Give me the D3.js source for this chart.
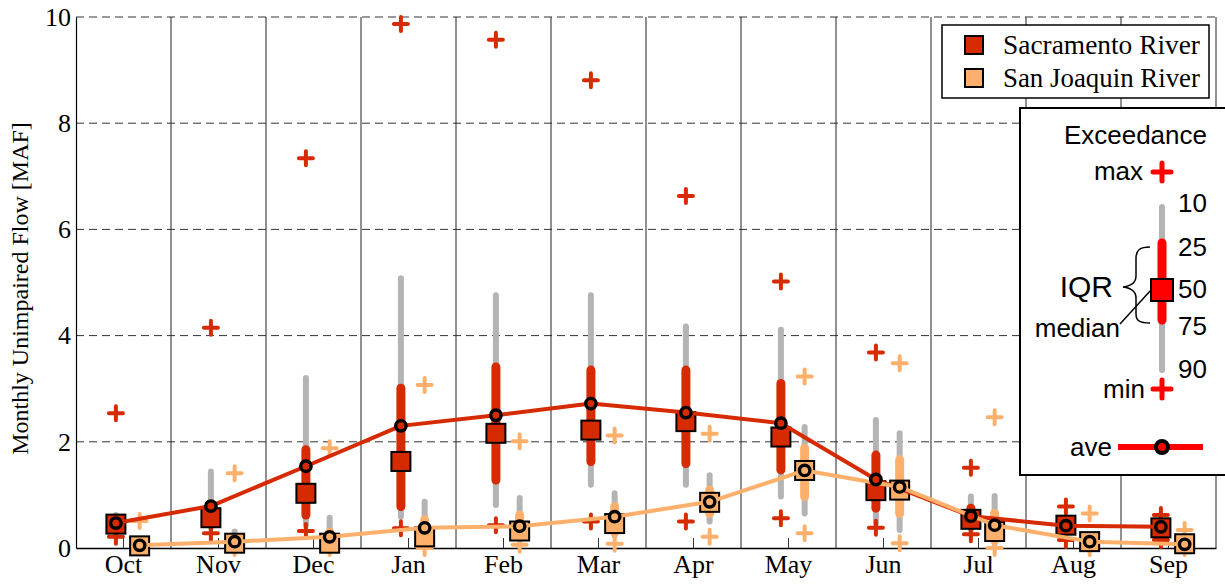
<!DOCTYPE html>
<html>
<head>
<meta charset="utf-8">
<script src="https://cdn.jsdelivr.net/npm/d3@7"></script>
<style>
  html, body { margin: 0; padding: 0; background: #fff; }
  svg { display: block; }
</style>
</head>
<body>
<svg id="chart" width="1225" height="584"></svg>
<script>
// ---------------- DATA ----------------
const months = ["Oct","Nov","Dec","Jan","Feb","Mar","Apr","May","Jun","Jul","Aug","Sep"];
const seriesNames = ["Sacramento River","San Joaquin River"];
const yTicks = [0, 2, 4, 6, 8, 10];

// Sacramento River (MAF), exceedance percentiles
const sacMax  = [2.54, 4.15, 7.34, 9.87, 9.57, 8.81, 6.63, 5.02, 3.68, 1.51, 0.78, 0.62];
const sacP10  = [0.62, 1.44, 3.20, 5.08, 4.76, 4.76, 4.17, 4.11, 2.41, 0.97, 0.55, 0.50];
const sacP25  = [0.55, 0.72, 1.85, 3.01, 3.41, 3.35, 3.35, 3.10, 1.75, 0.75, 0.50, 0.45];
const sacMed  = [0.45, 0.57, 1.03, 1.63, 2.16, 2.22, 2.38, 2.09, 1.08, 0.54, 0.43, 0.38];
const sacP75  = [0.35, 0.45, 0.62, 0.78, 1.28, 1.63, 1.59, 1.47, 0.75, 0.42, 0.35, 0.30];
const sacP90  = [0.28, 0.38, 0.43, 0.59, 0.81, 1.19, 1.19, 0.97, 0.46, 0.34, 0.25, 0.22];
const sacMin  = [0.21, 0.28, 0.32, 0.37, 0.43, 0.50, 0.50, 0.56, 0.38, 0.26, 0.15, 0.15];
const sacAve  = [0.47, 0.79, 1.54, 2.30, 2.50, 2.72, 2.55, 2.35, 1.29, 0.60, 0.42, 0.40];

// San Joaquin River (MAF)
const sjMax   = [0.51, 1.41, 1.88, 3.07, 2.01, 2.12, 2.15, 3.23, 3.48, 2.46, 0.65, 0.34];
const sjP10   = [0.10, 0.31, 0.57, 0.87, 0.94, 1.03, 1.37, 2.28, 2.16, 0.98, 0.20, 0.12];
const sjP25   = [0.07, 0.20, 0.30, 0.53, 0.62, 0.78, 1.09, 1.88, 1.66, 0.65, 0.15, 0.10];
const sjMed   = [0.04, 0.09, 0.09, 0.21, 0.32, 0.46, 0.86, 1.46, 1.09, 0.31, 0.12, 0.08];
const sjP75   = [0.03, 0.05, 0.05, 0.12, 0.20, 0.30, 0.65, 0.97, 0.65, 0.15, 0.06, 0.04];
const sjP90   = [0.02, 0.03, 0.03, 0.08, 0.15, 0.24, 0.50, 0.65, 0.34, 0.08, 0.04, 0.03];
const sjMin   = [0.01, 0.00, 0.00, 0.00, 0.06, 0.08, 0.21, 0.28, 0.09, 0.00, 0.00, 0.00];
const sjAve   = [0.05, 0.12, 0.21, 0.38, 0.41, 0.59, 0.87, 1.46, 1.15, 0.43, 0.12, 0.07];

// ---------------- BUILD ----------------
const series = [
  {name: seriesNames[0], color: "#d62a00", max: sacMax, p10: sacP10, p25: sacP25, med: sacMed, p75: sacP75, p90: sacP90, min: sacMin, ave: sacAve},
  {name: seriesNames[1], color: "#fdb06b", max: sjMax, p10: sjP10, p25: sjP25, med: sjMed, p75: sjP75, p90: sjP90, min: sjMin, ave: sjAve}
];
const GRAY = "#b4b4b4";
const SERIF = "'Liberation Serif','Times New Roman',serif";
const SANS = "'Liberation Sans',Arial,Helvetica,sans-serif";

const svg = d3.select("#chart");
const L = 76, R = 1216, T = 17, B = 548;

const x = d3.scaleBand().domain(months).range([L, R]).padding(0);
const bw = x.bandwidth();
const xs = d3.scalePoint().domain(seriesNames).range([0.42 * bw, 0.67 * bw]);
const y = d3.scaleLinear().domain([0, 10]).range([B, T]);
const px = (s, i) => x(months[i]) + xs(s.name);

// grid: horizontal dashed
svg.append("g").selectAll("line").data(yTicks.filter(d => d > 0)).join("line")
  .attr("x1", L).attr("x2", R).attr("y1", d => y(d)).attr("y2", d => y(d))
  .attr("stroke", "#333").attr("stroke-width", 1).attr("stroke-dasharray", "8,5");

// vertical month separators
svg.append("g").selectAll("line").data(months.slice(1).concat(["end"])).join("line")
  .attr("x1", d => d === "end" ? R : x(d)).attr("x2", d => d === "end" ? R : x(d))
  .attr("y1", T).attr("y2", B)
  .attr("stroke", "#222").attr("stroke-width", 1);

// axes
const yAxis = d3.axisLeft(y).tickValues(yTicks).tickSize(0).tickPadding(5).tickFormat(d3.format("d"));
const gy = svg.append("g").attr("transform", `translate(${L},0)`).call(yAxis);
gy.select(".domain").attr("stroke", "#000").attr("stroke-width", 1.2);
gy.selectAll("text").attr("font-family", SERIF).attr("font-size", 26).attr("fill", "#000");

const xAxis = d3.axisBottom(x).tickSizeInner(-10).tickSizeOuter(0).tickPadding(7);
const gx = svg.append("g").attr("transform", `translate(0,${B})`).call(xAxis);
gx.select(".domain").attr("stroke", "#000").attr("stroke-width", 1.5);
gx.selectAll(".tick line").attr("stroke", "#333");
gx.selectAll("text").attr("font-family", SERIF).attr("font-size", 26).attr("fill", "#000");

// y title
svg.append("text")
  .attr("transform", `translate(28,${(T + B) / 2 + 6}) rotate(-90)`)
  .attr("text-anchor", "middle")
  .attr("font-family", SERIF).attr("font-size", 24)
  .text("Monthly Unimpaired Flow [MAF]");

function plus(g, cx, cy, size, color, w) {
  g.append("path")
    .attr("d", `M${cx - size},${cy}H${cx + size}M${cx},${cy - size}V${cy + size}`)
    .attr("stroke", color).attr("stroke-width", w).attr("stroke-linecap", "round").attr("fill", "none");
}

const marks = svg.append("g");
series.forEach(s => {
  const g = marks.append("g");
  months.forEach((m, i) => {
    const cx = px(s, i);
    g.append("line").attr("x1", cx).attr("x2", cx).attr("y1", y(s.p10[i])).attr("y2", y(s.p90[i]))
      .attr("stroke", GRAY).attr("stroke-width", 6).attr("stroke-linecap", "round");
  });
  months.forEach((m, i) => {
    const cx = px(s, i);
    g.append("line").attr("x1", cx).attr("x2", cx).attr("y1", y(s.p25[i])).attr("y2", y(s.p75[i]))
      .attr("stroke", s.color).attr("stroke-width", 9).attr("stroke-linecap", "round");
  });
  months.forEach((m, i) => {
    const cx = px(s, i);
    plus(g, cx, y(s.max[i]), 7, s.color, 4);
    plus(g, cx, y(s.min[i]), 7, s.color, 4);
  });
  months.forEach((m, i) => {
    const cx = px(s, i);
    g.append("rect").attr("x", cx - 9.5).attr("y", y(s.med[i]) - 9.5).attr("width", 19).attr("height", 19)
      .attr("fill", s.color).attr("stroke", "#000").attr("stroke-width", 2);
  });
});

// average lines
const line = d3.line().x(d => d[0]).y(d => d[1]).curve(d3.curveLinear);
series.forEach(s => {
  const pts = months.map((m, i) => [px(s, i), y(s.ave[i])]);
  marks.append("path").attr("d", line(pts)).attr("fill", "none")
    .attr("stroke", s.color).attr("stroke-width", 4).attr("stroke-linejoin", "round");
});
series.forEach(s => {
  marks.append("g").selectAll("circle").data(months).join("circle")
    .attr("cx", (m, i) => px(s, i)).attr("cy", (m, i) => y(s.ave[i])).attr("r", 5.2)
    .attr("fill", s.color).attr("stroke", "#000").attr("stroke-width", 3.4);
});

// ---------------- LEGEND ----------------
const lg = svg.append("g");
lg.append("rect").attr("x", 942).attr("y", 25).attr("width", 267).attr("height", 73)
  .attr("fill", "#fff").attr("stroke", "#000").attr("stroke-width", 1.5);
series.forEach((s, k) => {
  const cy = 45 + k * 33;
  lg.append("rect").attr("x", 965).attr("y", cy - 9).attr("width", 18).attr("height", 18)
    .attr("fill", s.color).attr("stroke", "#000").attr("stroke-width", 2);
  lg.append("text").attr("x", 1003).attr("y", cy + 9).attr("font-family", SERIF).attr("font-size", 27)
    .attr("textLength", 197).attr("lengthAdjust", "spacingAndGlyphs")
    .text(s.name);
});

// ---------------- EXCEEDANCE KEY ----------------
const kg = svg.append("g");
kg.append("rect").attr("x", 1020).attr("y", 108).attr("width", 215).attr("height", 367)
  .attr("fill", "#fff").attr("stroke", "#000").attr("stroke-width", 2);
const KX = 1162, KRED = "#ff0000";
const kt = (txt, xx, yy, anchor, size) => kg.append("text").attr("x", xx).attr("y", yy)
  .attr("text-anchor", anchor).attr("font-family", SANS).attr("font-size", size || 26).text(txt);
kt("Exceedance", 1207, 144, "end");
kt("max", 1143, 180, "end");
plus(kg, KX, 172, 9, KRED, 5);
kg.append("line").attr("x1", KX).attr("x2", KX).attr("y1", 207).attr("y2", 370)
  .attr("stroke", GRAY).attr("stroke-width", 6).attr("stroke-linecap", "round");
kg.append("line").attr("x1", KX).attr("x2", KX).attr("y1", 243).attr("y2", 320)
  .attr("stroke", KRED).attr("stroke-width", 9).attr("stroke-linecap", "round");
kg.append("rect").attr("x", KX - 11).attr("y", 279).attr("width", 22).attr("height", 22)
  .attr("fill", KRED).attr("stroke", "#000").attr("stroke-width", 2);
[["10", 212], ["25", 256], ["50", 298], ["75", 335], ["90", 378]].forEach(([t, yy]) => kt(t, 1178, yy, "start"));
kt("min", 1145, 398, "end");
plus(kg, KX, 389, 9, KRED, 5);
kg.append("line").attr("x1", 1118).attr("x2", 1203).attr("y1", 447).attr("y2", 447)
  .attr("stroke", KRED).attr("stroke-width", 6);
kg.append("circle").attr("cx", KX).attr("cy", 447).attr("r", 6)
  .attr("fill", KRED).attr("stroke", "#000").attr("stroke-width", 4);
kt("ave", 1112, 456, "end");
kt("IQR", 1113, 297, "end", 30);
kt("median", 1120, 337, "end");
// brace
kg.append("path")
  .attr("d", "M1150,247 C1140,247 1136,250 1136,258 L1136,276 C1136,283 1131,286 1123,287 C1131,288 1136,291 1136,298 L1136,314 C1136,321 1140,323 1150,323")
  .attr("fill", "none").attr("stroke", "#000").attr("stroke-width", 1.5);
kg.append("line").attr("x1", 1120).attr("y1", 324).attr("x2", 1151).attr("y2", 290)
  .attr("stroke", "#000").attr("stroke-width", 1.5);
</script>
</body>
</html>
